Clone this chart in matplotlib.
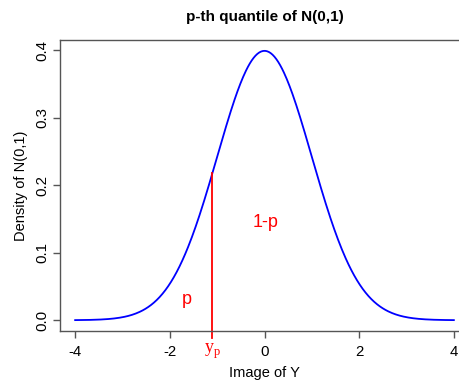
import numpy as np
import matplotlib
matplotlib.use("Agg")
import matplotlib.pyplot as plt

plt.rcParams['font.family'] = ['Liberation Sans', 'DejaVu Sans']
plt.rcParams['mathtext.fontset'] = 'custom'
plt.rcParams['mathtext.rm'] = 'Liberation Serif'

x_min, x_max = -4, 4
yp = -1.1
title = "p-th quantile of N(0,1)"
xlabel = "Image of Y"
ylabel = "Density of N(0,1)"
xticks = [-4, -2, 0, 2, 4]
yticks = [0.0, 0.1, 0.2, 0.3, 0.4]
label_p = "p"
label_1mp = "1-p"

xs = np.linspace(x_min, x_max, 400)
dens = np.exp(-xs**2 / 2) / np.sqrt(2 * np.pi)
dyp = np.exp(-yp**2 / 2) / np.sqrt(2 * np.pi)

fig = plt.figure(figsize=(4.59, 3.80), dpi=100)
ax = fig.add_axes([60/459, 49/380, 409/459, 291/380])
ax.plot(xs, dens, color='blue', lw=1.3)
ax.plot([yp, yp], [-0.026, dyp], color='red', lw=1.3, clip_on=False)
ax.set_xlim(-4.32, 4.32)
ax.set_ylim(-0.016, 0.415)
ax.set_xticks(xticks)
ax.set_xticklabels([str(t) for t in xticks])
ax.set_yticks(yticks)
ax.set_yticklabels(["%.1f" % t for t in yticks], rotation=90, va='center')
for s in ax.spines.values():
    s.set_color('#555555')
    s.set_linewidth(1.0)
ax.tick_params(colors='#555555', labelcolor='black', length=5, width=1.0, labelsize=10.8)
ax.tick_params(axis='x', pad=5)
ax.tick_params(axis='y', pad=3)
ax.set_xlabel(xlabel, fontsize=10.5, labelpad=5)
ax.set_ylabel(ylabel, fontsize=10.5, labelpad=5)
fig.text(0.5 * (60 + 469) / 459, 1 - 17/380, title, ha='center', va='center',
         fontsize=11, fontweight='bold')
ax.text(-1.65, 0.03, label_p, color='red', fontsize=13, ha='center', va='center')
ax.text(0.03, 0.145, label_1mp, color='red', fontsize=13, ha='center', va='center')
ax.text(yp, -0.046, r'$\mathrm{y}_\mathrm{p}$', color='red', fontsize=13,
        ha='center', va='center', clip_on=False)
fig.savefig("out.png", dpi=100)
